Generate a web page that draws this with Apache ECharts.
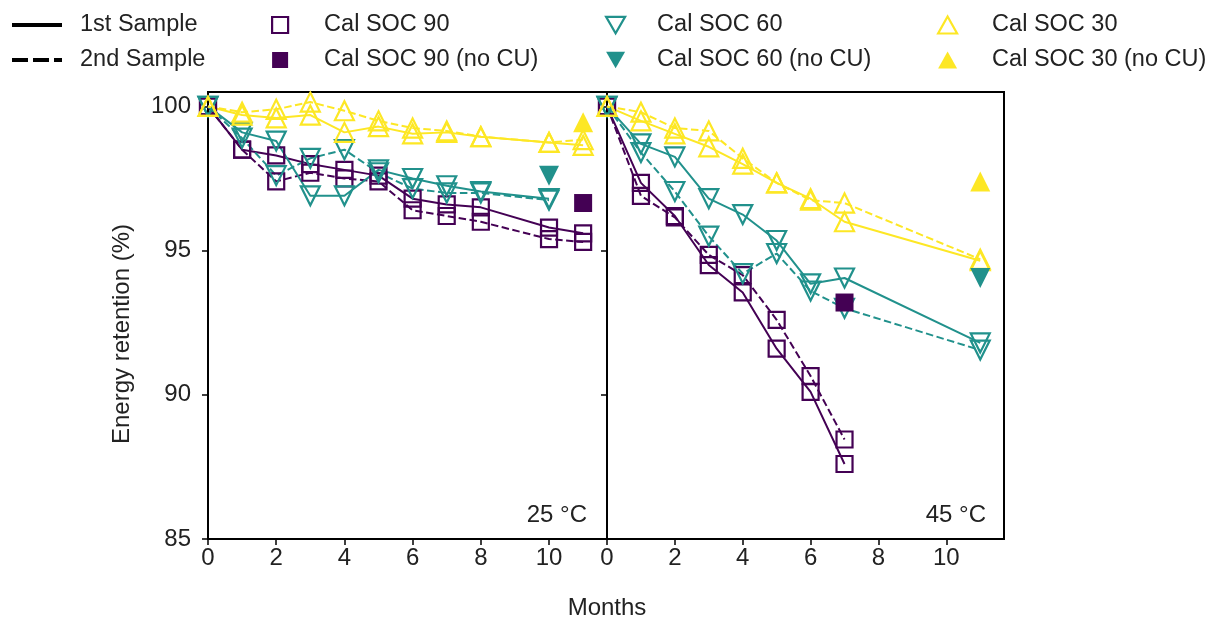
<!DOCTYPE html>
<html>
<head>
<meta charset="utf-8">
<script src="https://cdn.jsdelivr.net/npm/echarts@6/dist/echarts.min.js"></script>
<style>
html,body{margin:0;padding:0;background:#fff;}
#chart{width:1217px;height:620px;}
</style>
</head>
<body>
<div id="chart"></div>
<script>
// ---------- data ----------
const xTicks = [0, 2, 4, 6, 8, 10];
const yTicks = [85, 90, 95, 100];

// 25 °C panel
const months25 = [0, 1, 2, 3, 4, 5, 6, 7, 8, 10, 11];
const months25soc60 = [0, 1, 2, 3, 4, 5, 6, 7, 8, 10];
const soc90_25_s1 = [100, 98.5, 98.3, 98.0, 97.8, 97.6, 96.8, 96.6, 96.5, 95.8, 95.6];
const soc90_25_s2 = [100, 98.5, 97.4, 97.7, 97.5, 97.4, 96.4, 96.2, 96.0, 95.4, 95.3];
const soc60_25_s1 = [100, 99.1, 98.8, 96.9, 96.9, 97.8, 97.5, 97.25, 97.05, 96.8];
const soc60_25_s2 = [100, 98.9, 97.6, 98.2, 98.5, 97.7, 97.15, 97.0, 97.0, 96.75];
const soc30_25_s1 = [100, 99.7, 99.6, 99.7, 99.1, 99.3, 99.05, 99.1, 98.95, 98.75, 98.65];
const soc30_25_s2 = [100, 99.8, 99.9, 100.15, 99.85, 99.5, 99.25, 99.15, 98.95, 98.75, 98.85];
const noCU_25_x = { soc90: 11, soc60: 10, soc30: 11 };
const noCU_25_y = { soc90: 96.65, soc60: 97.6, soc30: 99.45 };

// 45 °C panel
const months45soc90 = [0, 1, 2, 3, 4, 5, 6, 7];
const months45 = [0, 1, 2, 3, 4, 5, 6, 7, 11];
const soc90_45_s1 = [100, 97.35, 96.2, 94.5, 93.55, 91.6, 90.1, 87.6];
const soc90_45_s2 = [100, 96.9, 96.15, 94.85, 94.15, 92.6, 90.65, 88.45];
const soc60_45_s1 = [100, 98.7, 98.25, 96.8, 96.25, 95.35, 93.85, 94.05, 91.8];
const soc60_45_s2 = [100, 98.4, 97.05, 95.5, 94.2, 94.9, 93.6, 93.0, 91.55];
const soc30_45_s1 = [100, 99.5, 99.05, 98.6, 98.0, 97.35, 96.8, 96.0, 94.65];
const soc30_45_s2 = [100, 99.8, 99.25, 99.15, 98.2, 97.35, 96.75, 96.65, 94.7];
const noCU_45_x = { soc90: 7, soc60: 11, soc30: 11 };
const noCU_45_y = { soc90: 93.2, soc60: 94.05, soc30: 97.4 };

// ---------- styles ----------
const C90 = '#440154', C60 = '#21918c', C30 = '#fde725';
const FONT = 'Liberation Sans, Arial, sans-serif';
const TXT = '#222';
const FS = 24;
const FSL = 23.5;
const DASH = [7.5, 3.5];
const DOWN_TRI = 'path://M0,0 L20,0 L10,17.3 Z';
const SOLID_ICON = 'path://M0,0 h50 v4 h-50 Z';
const DASH_ICON = 'path://M0,0 h16 v4 h-16 Z M21,0 h16 v4 h-16 Z M42,0 h8 v4 h-8 Z';

function pairs(xs, ys) { return xs.map((x, i) => [x, ys[i]]); }

function openLine(name, axis, xs, ys, color, symbol, rotate, dashed, size) {
  return {
    name: name, type: 'line', xAxisIndex: axis, yAxisIndex: axis,
    data: pairs(xs, ys),
    symbol: symbol, symbolSize: size, symbolRotate: rotate,
    showAllSymbol: true,
    lineStyle: { color: color, width: 2, type: dashed ? DASH : 'solid' },
    itemStyle: { color: 'rgba(0,0,0,0)', borderColor: color, borderWidth: 2.2 },
    emphasis: { disabled: true }, silent: true, animation: false
  };
}
function filledPoint(name, axis, x, y, color, symbol, rotate, size) {
  return {
    name: name, type: 'scatter', xAxisIndex: axis, yAxisIndex: axis,
    data: [[x, y]], symbol: symbol, symbolSize: size, symbolRotate: rotate,
    itemStyle: { color: color, opacity: 1 },
    emphasis: { disabled: true }, silent: true, animation: false, z: 5
  };
}

const SQ = 16, TR = 19;
const series = [];
// 25 °C (axis 0)
series.push(openLine('p90a', 0, months25, soc90_25_s1, C90, 'rect', 0, false, SQ));
series.push(openLine('p90b', 0, months25, soc90_25_s2, C90, 'rect', 0, true, SQ));
series.push(openLine('p60a', 0, months25soc60, soc60_25_s1, C60, 'triangle', 180, false, TR));
series.push(openLine('p60b', 0, months25soc60, soc60_25_s2, C60, 'triangle', 180, true, TR));
series.push(openLine('p30a', 0, months25, soc30_25_s1, C30, 'triangle', 0, false, TR));
series.push(openLine('p30b', 0, months25, soc30_25_s2, C30, 'triangle', 0, true, TR));
series.push(filledPoint('f90a', 0, noCU_25_x.soc90, noCU_25_y.soc90, C90, 'rect', 0, 18));
series.push(filledPoint('f60a', 0, noCU_25_x.soc60, noCU_25_y.soc60, C60, 'triangle', 180, 20));
series.push(filledPoint('f30a', 0, noCU_25_x.soc30, noCU_25_y.soc30, C30, 'triangle', 0, 20));
// 45 °C (axis 1)
series.push(openLine('q90a', 1, months45soc90, soc90_45_s1, C90, 'rect', 0, false, SQ));
series.push(openLine('q90b', 1, months45soc90, soc90_45_s2, C90, 'rect', 0, true, SQ));
series.push(openLine('q60a', 1, months45, soc60_45_s1, C60, 'triangle', 180, false, TR));
series.push(openLine('q60b', 1, months45, soc60_45_s2, C60, 'triangle', 180, true, TR));
series.push(openLine('q30a', 1, months45, soc30_45_s1, C30, 'triangle', 0, false, TR));
series.push(openLine('q30b', 1, months45, soc30_45_s2, C30, 'triangle', 0, true, TR));
series.push(filledPoint('f90b', 1, noCU_45_x.soc90, noCU_45_y.soc90, C90, 'rect', 0, 18));
series.push(filledPoint('f60b', 1, noCU_45_x.soc60, noCU_45_y.soc60, C60, 'triangle', 180, 20));
series.push(filledPoint('f30b', 1, noCU_45_x.soc30, noCU_45_y.soc30, C30, 'triangle', 0, 20));

// legend-only series (no data)
const legendSeries = [
  { name: '1st Sample', type: 'line', data: [], symbol: 'none', lineStyle: { color: '#000', width: 3.5 }, itemStyle: { color: '#000' } },
  { name: '2nd Sample', type: 'line', data: [], symbol: 'none', lineStyle: { color: '#000', width: 3.5 }, itemStyle: { color: '#000' } },
  { name: 'Cal SOC 90', type: 'scatter', data: [], symbol: 'rect', itemStyle: { color: 'rgba(0,0,0,0)', borderColor: C90, borderWidth: 2, opacity: 1 } },
  { name: 'Cal SOC 90 (no CU)', type: 'scatter', data: [], symbol: 'rect', itemStyle: { color: C90, opacity: 1 } },
  { name: 'Cal SOC 60', type: 'scatter', data: [], symbol: DOWN_TRI, itemStyle: { color: 'rgba(0,0,0,0)', borderColor: C60, borderWidth: 2, opacity: 1 } },
  { name: 'Cal SOC 60 (no CU)', type: 'scatter', data: [], symbol: DOWN_TRI, itemStyle: { color: C60, opacity: 1 } },
  { name: 'Cal SOC 30', type: 'scatter', data: [], symbol: 'triangle', itemStyle: { color: 'rgba(0,0,0,0)', borderColor: C30, borderWidth: 2, opacity: 1 } },
  { name: 'Cal SOC 30 (no CU)', type: 'scatter', data: [], symbol: 'triangle', itemStyle: { color: C30, opacity: 1 } }
];
legendSeries.forEach(s => { s.xAxisIndex = 0; s.yAxisIndex = 0; s.silent = true; s.animation = false; series.push(s); });

const legendText = { fontFamily: FONT, fontSize: FSL, color: TXT, lineHeight: 24 };
function mkLegend(left, items, w, h, pad) {
  return {
    left: left, top: 13, orient: 'vertical', padding: 0, itemGap: 11,
    itemWidth: w, itemHeight: h, selectedMode: false,
    textStyle: Object.assign({ padding: [0, 0, 0, pad] }, legendText),
    data: items
  };
}

const gridTop = 92, gridH = 447;
const xAxisCommon = {
  type: 'value', min: 0, max: 11.7, interval: 2,
  axisLine: { show: true, onZero: false, lineStyle: { color: '#000', width: 2 } },
  axisTick: { show: true, inside: false, length: 6, customValues: xTicks, lineStyle: { color: '#000', width: 1.5 } },
  axisLabel: { show: true, margin: 7, customValues: xTicks, fontFamily: FONT, fontSize: FS, color: TXT },
  splitLine: { show: false }
};
const yAxisCommon = {
  type: 'value', min: 85, max: 100.5, interval: 5,
  axisLine: { show: true, onZero: false, lineStyle: { color: '#000', width: 2 } },
  axisTick: { show: true, inside: false, length: 6, customValues: yTicks, lineStyle: { color: '#000', width: 1.5 } },
  splitLine: { show: false }
};

const option = {
  backgroundColor: '#fff',
  animation: false,
  grid: [
    { left: 208, top: gridTop, width: 399, height: gridH, show: true, borderColor: '#000', borderWidth: 2, backgroundColor: 'rgba(0,0,0,0)' },
    { left: 607, top: gridTop, width: 397, height: gridH, show: true, borderColor: '#000', borderWidth: 2, backgroundColor: 'rgba(0,0,0,0)' }
  ],
  xAxis: [
    Object.assign({ gridIndex: 0 }, xAxisCommon),
    Object.assign({ gridIndex: 1 }, xAxisCommon)
  ],
  yAxis: [
    Object.assign({ gridIndex: 0,
      axisLabel: { show: true, margin: 17, customValues: yTicks, fontFamily: FONT, fontSize: FS, color: TXT } }, yAxisCommon),
    Object.assign({ gridIndex: 1, axisLabel: { show: false } }, yAxisCommon)
  ],
  legend: [
    mkLegend(12, [
      { name: '1st Sample', icon: SOLID_ICON, itemStyle: { color: '#000', borderWidth: 0 } },
      { name: '2nd Sample', icon: DASH_ICON, itemStyle: { color: '#000', borderWidth: 0 } }
    ], 50, 4, 13),
    mkLegend(271, [
      { name: 'Cal SOC 90', icon: 'rect', itemStyle: { color: 'rgba(0,0,0,0)', borderColor: C90, borderWidth: 2.2, opacity: 1 } },
      { name: 'Cal SOC 90 (no CU)', icon: 'rect', itemStyle: { color: C90, borderWidth: 0, opacity: 1 } }
    ], 16, 16, 31),
    mkLegend(605, [
      { name: 'Cal SOC 60', icon: DOWN_TRI, itemStyle: { color: 'rgba(0,0,0,0)', borderColor: C60, borderWidth: 2.2, opacity: 1 } },
      { name: 'Cal SOC 60 (no CU)', icon: DOWN_TRI, itemStyle: { color: C60, borderWidth: 0, opacity: 1 } }
    ], 19, 17, 27),
    mkLegend(937, [
      { name: 'Cal SOC 30', icon: 'triangle', itemStyle: { color: 'rgba(0,0,0,0)', borderColor: C30, borderWidth: 2.2, opacity: 1 } },
      { name: 'Cal SOC 30 (no CU)', icon: 'triangle', itemStyle: { color: C30, borderWidth: 0, opacity: 1 } }
    ], 19, 17, 30)
  ],
  graphic: [
    { type: 'text', right: 1217 - 587, top: 503, style: { text: '25 °C', fontFamily: FONT, fontSize: FS, fill: TXT } },
    { type: 'text', right: 1217 - 986, top: 503, style: { text: '45 °C', fontFamily: FONT, fontSize: FS, fill: TXT } },
    { type: 'text', x: 607, y: 608, style: { text: 'Months', fontFamily: FONT, fontSize: FS, fill: TXT, align: 'center', verticalAlign: 'middle' } },
    { type: 'text', x: 122, y: 334, rotation: Math.PI / 2, style: { text: 'Energy retention (%)', fontFamily: FONT, fontSize: FS, fill: TXT, align: 'center', verticalAlign: 'middle' } }
  ],
  series: series
};

const chart = echarts.init(document.getElementById('chart'), null, { renderer: 'canvas' });
chart.setOption(option);
</script>
</body>
</html>
